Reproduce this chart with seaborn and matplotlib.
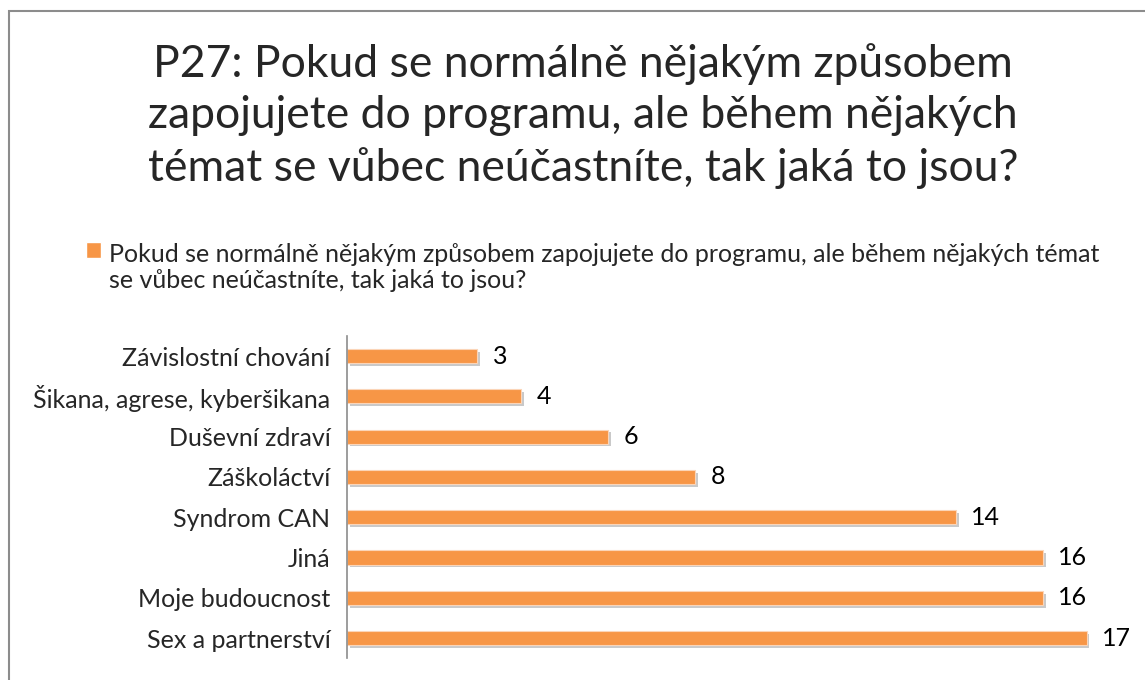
import matplotlib
matplotlib.use("Agg")
import matplotlib.pyplot as plt
import matplotlib.patheffects as pe
from matplotlib.patches import Rectangle, Patch
from matplotlib.legend_handler import HandlerPatch
import seaborn as sns
import pandas as pd

# data
categories = [
    "Závislostní chování",
    "Šikana, agrese, kyberšikana",
    "Duševní zdraví",
    "Záškoláctví",
    "Syndrom CAN",
    "Jiná",
    "Moje budoucnost",
    "Sex a partnerství",
]
counts = [3, 4, 6, 8, 14, 16, 16, 17]
series_name = ("Pokud se normálně nějakým způsobem zapojujete do programu, ale během nějakých témat\n"
               "se vůbec neúčastníte, tak jaká to jsou?")
title = ("P27: Pokud se normálně nějakým způsobem\n"
         "zapojujete do programu, ale během nějakých\n"
         "témat se vůbec neúčastníte, tak jaká to jsou?")
bar_color = "#F79646"

df = pd.DataFrame({"tema": categories, "pocet": counts})

sns.set_theme(style="white")
plt.rcParams["font.family"] = ["Lato", "DejaVu Sans"]

fig = plt.figure(figsize=(11.45, 6.8), dpi=100)
ax = fig.add_axes([0.303, 0.032, 0.684, 0.474])

sns.barplot(data=df, y="tema", x="pocet", orient="h", color=bar_color,
            saturation=1, width=0.35, ax=ax)

for bar in ax.patches:
    bar.set_path_effects([pe.SimplePatchShadow(offset=(2, -2), shadow_rgbFace="#888888", alpha=0.45),
                          pe.Normal()])
    bar.set_edgecolor("#FBD5B8")
    bar.set_linewidth(0.8)

ax.bar_label(ax.containers[0], padding=11, fontsize=18, color="black")

ax.set_xlim(0, 18)
ax.set_xlabel("")
ax.set_ylabel("")
ax.set_xticks([])
ax.tick_params(axis="y", length=0, pad=12, labelsize=18)
for s in ["top", "right", "bottom"]:
    ax.spines[s].set_visible(False)
ax.spines["left"].set_color("#8C8C8C")
ax.spines["left"].set_linewidth(1.2)


# legend marker sits next to the first line of the two-line label
def top_square(legend, orig_handle, xdescent, ydescent, width, height, fontsize):
    return Rectangle((-xdescent, -ydescent + 0.72 * fontsize), width, height)


fig.legend([Patch(facecolor=bar_color)], [series_name], loc="upper left",
           bbox_to_anchor=(0.0665, 0.658), frameon=False, fontsize=18,
           handlelength=0.6, handleheight=0.6, handletextpad=0.3, borderaxespad=0,
           handler_map={Patch: HandlerPatch(patch_func=top_square)})

fig.text(0.509, 0.937, title, ha="center", va="top", fontsize=32, linespacing=1.32)

# outer chart border (cut off at the right and bottom edges)
fig.patches.append(Rectangle((9 / 1145, -0.1), 1.2, 1 - 11 / 680 + 0.1,
                             transform=fig.transFigure, fill=False,
                             edgecolor="#8C8C8C", linewidth=1.5))

fig.savefig("out.png", dpi=100)
